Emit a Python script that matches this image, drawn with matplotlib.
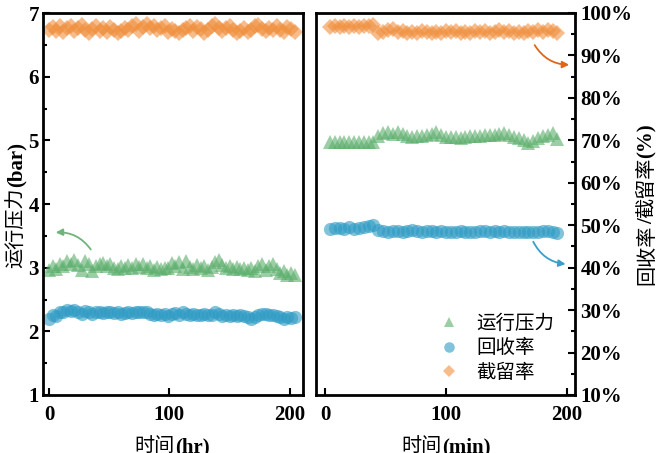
import numpy as np
import matplotlib
matplotlib.use('Agg')
import matplotlib.pyplot as plt
from matplotlib.ticker import MultipleLocator, FuncFormatter

# left panel: time in hours, values in bar units
hours = np.arange(0, 205, 3)
pressure_hr = [2.97, 3.02, 2.98, 3.06, 3.03, 3.10, 3.05, 3.12, 3.04, 2.96,
               3.10, 3.05, 2.95, 3.02, 3.05, 3.08, 3.02, 3.06, 3.00, 2.98,
               3.03, 2.99, 3.04, 3.00, 3.05, 3.01, 3.06, 2.99, 3.03, 2.97,
               3.01, 2.98, 3.00, 2.99, 3.07, 3.03, 3.09, 2.98, 3.10, 3.01,
               2.98, 3.04, 2.99, 3.03, 2.97, 3.01, 3.09, 3.12, 3.04, 3.00,
               3.02, 2.98, 3.01, 2.98, 3.00, 2.97, 2.99, 2.95, 3.03, 3.05,
               2.97, 3.02, 3.06, 2.98, 2.92, 2.95, 2.88, 2.92, 2.89]
recovery_hr = [2.20, 2.26, 2.24, 2.30, 2.31, 2.33, 2.32, 2.34, 2.31, 2.28,
               2.32, 2.30, 2.27, 2.30, 2.31, 2.29, 2.30, 2.30, 2.29, 2.30,
               2.28, 2.29, 2.30, 2.29, 2.30, 2.31, 2.30, 2.31, 2.27, 2.26,
               2.27, 2.25, 2.27, 2.24, 2.27, 2.29, 2.26, 2.31, 2.28, 2.25,
               2.27, 2.26, 2.25, 2.27, 2.25, 2.26, 2.30, 2.28, 2.24, 2.25,
               2.24, 2.25, 2.24, 2.26, 2.24, 2.22, 2.19, 2.22, 2.26, 2.28,
               2.27, 2.25, 2.26, 2.24, 2.22, 2.20, 2.23, 2.21, 2.22]
rejection_hr = [6.74, 6.78, 6.72, 6.80, 6.70, 6.76, 6.79, 6.71, 6.77, 6.81,
                6.73, 6.69, 6.75, 6.79, 6.72, 6.76, 6.70, 6.78, 6.74, 6.68,
                6.72, 6.77, 6.73, 6.80, 6.83, 6.71, 6.78, 6.82, 6.76, 6.80,
                6.73, 6.77, 6.79, 6.70, 6.75, 6.72, 6.69, 6.74, 6.77, 6.80,
                6.72, 6.78, 6.75, 6.69, 6.73, 6.79, 6.82, 6.77, 6.71, 6.76,
                6.79, 6.73, 6.68, 6.72, 6.76, 6.70, 6.74, 6.79, 6.81, 6.75,
                6.71, 6.77, 6.73, 6.79, 6.74, 6.70, 6.78, 6.75, 6.70]

# right panel: time in minutes, values in percent
minutes = np.arange(4, 193, 4)
pressure_min = [69.5, 69.6, 69.6, 69.5, 69.6, 69.6, 69.5, 69.6, 69.6, 69.7,
                71.0, 71.7, 72.0, 71.6, 71.9, 71.5, 71.0, 70.9, 71.1, 71.0,
                71.3, 71.6, 71.9, 71.3, 70.9, 70.7, 70.9, 70.6, 70.8, 71.0,
                71.1, 71.0, 71.2, 71.3, 71.2, 71.5, 71.8, 71.3, 70.9, 70.6,
                70.0, 69.4, 69.9, 70.5, 71.0, 71.3, 71.7, 70.2]
recovery_min = [49.2, 49.3, 49.4, 49.2, 49.5, 49.1, 49.3, 49.6, 49.8, 50.0,
                48.8, 48.6, 48.5, 48.6, 48.7, 48.5, 48.6, 48.8, 48.6, 48.5,
                48.6, 48.7, 48.5, 48.6, 48.5, 48.4, 48.5, 48.6, 48.5, 48.4,
                48.5, 48.6, 48.7, 48.5, 48.6, 48.5, 48.6, 48.4, 48.5, 48.3,
                48.4, 48.5, 48.3, 48.5, 48.7, 48.6, 48.5, 48.2]
rejection_min = [96.8, 96.9, 96.7, 96.9, 96.8, 96.9, 96.8, 97.0, 96.9, 97.1,
                 95.2, 95.6, 95.9, 96.2, 95.5, 95.8, 95.3, 95.6, 95.4, 95.7,
                 95.5, 95.3, 95.6, 95.4, 95.7, 95.5, 95.8, 95.4, 95.6, 95.3,
                 95.7, 95.5, 95.8, 95.4, 95.6, 95.9, 95.5, 95.7, 95.4, 95.6,
                 95.3, 95.7, 95.5, 95.9, 95.6, 96.0, 95.7, 95.2]

labels = ['运行压力', '回收率', '截留率']

GREEN = '#5aae6b'
BLUE = '#2f9bc4'
ORANGE = '#f0903e'
CJK = ['Noto Sans CJK SC', 'DejaVu Sans']
SERIF = ['Liberation Serif', 'Noto Sans CJK SC']

W, H = 657, 453
fig = plt.figure(figsize=(W / 100, H / 100), dpi=100)
ax1 = fig.add_axes([43 / W, 58 / H, 260 / W, 382 / H])
ax2 = fig.add_axes([316 / W, 58 / H, 259 / W, 382 / H])

mk = dict(linestyle='none', alpha=0.6, markeredgewidth=0)
ax1.plot(hours, pressure_hr, marker='^', ms=9.5, color=GREEN, **mk)
ax1.plot(hours, recovery_hr, marker='o', ms=9.5, color=BLUE, **mk)
ax1.plot(hours, rejection_hr, marker='D', ms=8, color=ORANGE, **mk)

h1, = ax2.plot(minutes, pressure_min, marker='^', ms=9.5, color=GREEN, label=labels[0], **mk)
h2, = ax2.plot(minutes, recovery_min, marker='o', ms=9.5, color=BLUE, label=labels[1], **mk)
h3, = ax2.plot(minutes, rejection_min, marker='D', ms=8, color=ORANGE, label=labels[2], **mk)

ax1.set_xlim(-5, 211)
ax1.set_ylim(1, 7)
ax2.set_xlim(-7.5, 206.5)
ax2.set_ylim(10, 100)

for ax in (ax1, ax2):
    for sp in ax.spines.values():
        sp.set_linewidth(2)
    ax.xaxis.set_major_locator(MultipleLocator(100))
    ax.tick_params(which='both', direction='in', width=1.5, top=False)
    ax.tick_params(which='major', length=5)
    ax.tick_params(which='minor', length=3)
    ax.tick_params(axis='x', pad=7)

ax1.yaxis.set_major_locator(MultipleLocator(1))
ax1.yaxis.set_minor_locator(MultipleLocator(0.5))
ax1.tick_params(axis='y', right=False, pad=3)

ax2.yaxis.tick_right()
ax2.yaxis.set_major_locator(MultipleLocator(10))
ax2.yaxis.set_minor_locator(MultipleLocator(5))
ax2.yaxis.set_major_formatter(FuncFormatter(lambda v, p: f'{v:.0f}%'))
ax2.tick_params(axis='y', left=False, pad=4)

for lab in ax1.get_xticklabels() + ax1.get_yticklabels() + ax2.get_xticklabels() + ax2.get_yticklabels():
    lab.set_fontfamily(SERIF)
    lab.set_fontweight('bold')
    lab.set_fontsize(15)

# curved arrows pointing to the axis each series belongs to
ax1.annotate('', xy=(3.3, 3.55), xytext=(36, 3.25),
             arrowprops=dict(arrowstyle='-|>', color='#6db57c', lw=1.3,
                             mutation_scale=10, connectionstyle='arc3,rad=0.3'))
ax2.annotate('', xy=(204, 87.8), xytext=(172, 93.0),
             arrowprops=dict(arrowstyle='-|>', color='#e0651a', lw=1.3,
                             mutation_scale=10, connectionstyle='arc3,rad=0.3'))
ax2.annotate('', xy=(201, 40.8), xytext=(171, 46.7),
             arrowprops=dict(arrowstyle='-|>', color='#3a9fc8', lw=1.3,
                             mutation_scale=10, connectionstyle='arc3,rad=0.3'))

ax2.legend(handles=[h1, h2, h3], loc='lower left', bbox_to_anchor=(0.41, -0.015),
           frameon=False, markerscale=0.8, handlelength=1.0, handletextpad=0.9,
           labelspacing=0.2, prop={'family': CJK, 'size': 14})


def mixed_text(x_px, y_px, parts, rotation=0):
    # lay out text pieces with different fonts one after another, centred on (x_px, y_px)
    renderer = fig.canvas.get_renderer()
    texts, lengths = [], []
    for s, kw in parts:
        t = fig.text(0, 0, s, rotation=rotation, rotation_mode='anchor',
                     ha='left', va='baseline', **kw)
        bb = t.get_window_extent(renderer)
        texts.append(t)
        lengths.append(bb.height if rotation == 90 else bb.width)
    pos = (y_px if rotation == 90 else x_px) - sum(lengths) / 2
    for t, n in zip(texts, lengths):
        if rotation == 90:
            t.set_position((x_px / W, pos / H))
        else:
            t.set_position((pos / W, y_px / H))
        pos += n


cjk_kw = dict(family=CJK, fontsize=14.5)
lat_kw = dict(family=SERIF, fontsize=15, fontweight='bold')
mixed_text(22, H - 205, [('运行压力', cjk_kw), ('(bar)', lat_kw)], rotation=90)
mixed_text(652, H - 204, [('回收率', cjk_kw), ('/', lat_kw), ('截留率', cjk_kw), ('(%)', lat_kw)], rotation=90)
mixed_text(172, 1, [('时间', cjk_kw), ('(hr)', lat_kw)])
mixed_text(446, 1, [('时间', cjk_kw), ('(min)', lat_kw)])

fig.savefig('out.png', dpi=100)
